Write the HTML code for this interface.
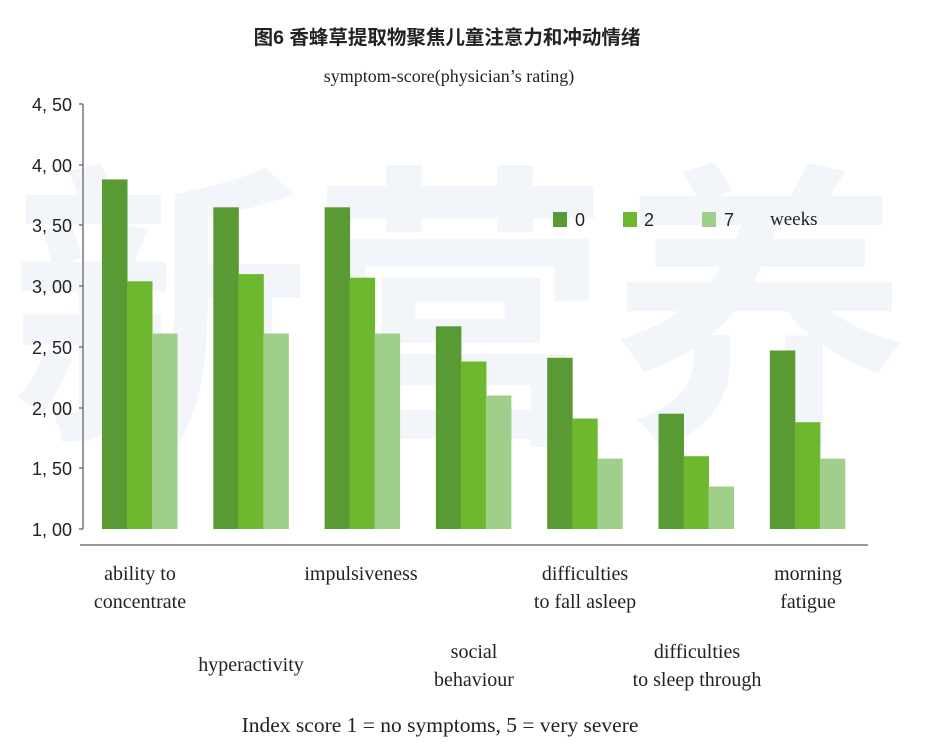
<!DOCTYPE html>
<html><head><meta charset="utf-8"><style>
body{margin:0;background:#fff;}
svg text{font-family:"Liberation Serif",serif;}
</style></head><body>
<svg width="925" height="750" xmlns="http://www.w3.org/2000/svg">
<rect width="925" height="750" fill="#fff"/>
<text x="10" y="420" font-size="300" font-weight="bold" fill="#f2f6fa" style="font-family:'Noto Sans CJK SC',sans-serif">新营养</text>
<text x="447" y="44" text-anchor="middle" font-size="19.5" font-weight="bold" style="font-family:'Liberation Sans','Noto Sans CJK SC',sans-serif" fill="#222">图6 香蜂草提取物聚焦儿童注意力和冲动情绪</text>
<text x="449" y="82" text-anchor="middle" font-size="18" fill="#222">symptom-score(physician’s rating)</text>
<g stroke="#777" stroke-width="1.5">
<line x1="83" y1="104" x2="83" y2="529"/>
<line x1="80" y1="545" x2="868" y2="545"/>
<line x1="79" y1="104" x2="83" y2="104"/><line x1="79" y1="165" x2="83" y2="165"/>
<line x1="79" y1="225" x2="83" y2="225"/><line x1="79" y1="286" x2="83" y2="286"/>
<line x1="79" y1="347" x2="83" y2="347"/><line x1="79" y1="408" x2="83" y2="408"/>
<line x1="79" y1="468" x2="83" y2="468"/><line x1="79" y1="529" x2="83" y2="529"/>
</g>
<g font-size="18" text-anchor="end" fill="#222">
<text x="72" y="111" style="font-family:'Liberation Sans',sans-serif">4, 50</text>
<text x="72" y="172" style="font-family:'Liberation Sans',sans-serif">4, 00</text>
<text x="72" y="232" style="font-family:'Liberation Sans',sans-serif">3, 50</text>
<text x="72" y="293" style="font-family:'Liberation Sans',sans-serif">3, 00</text>
<text x="72" y="354" style="font-family:'Liberation Sans',sans-serif">2, 50</text>
<text x="72" y="415" style="font-family:'Liberation Sans',sans-serif">2, 00</text>
<text x="72" y="475" style="font-family:'Liberation Sans',sans-serif">1, 50</text>
<text x="72" y="536" style="font-family:'Liberation Sans',sans-serif">1, 00</text>
</g>
<g>
<rect x="102" y="179.4" width="25.5" height="349.6" fill="#5a9a35"/>
<rect x="127" y="281.3" width="25.5" height="247.7" fill="#6db82f"/>
<rect x="152" y="333.5" width="25.5" height="195.5" fill="#9fcf8a"/>
<rect x="213.3" y="207.3" width="25.5" height="321.7" fill="#5a9a35"/>
<rect x="238.3" y="274.1" width="25.5" height="254.9" fill="#6db82f"/>
<rect x="263.3" y="333.5" width="25.5" height="195.5" fill="#9fcf8a"/>
<rect x="324.6" y="207.3" width="25.5" height="321.7" fill="#5a9a35"/>
<rect x="349.6" y="277.7" width="25.5" height="251.3" fill="#6db82f"/>
<rect x="374.6" y="333.5" width="25.5" height="195.5" fill="#9fcf8a"/>
<rect x="435.9" y="326.3" width="25.5" height="202.7" fill="#5a9a35"/>
<rect x="460.9" y="361.5" width="25.5" height="167.5" fill="#6db82f"/>
<rect x="485.9" y="395.5" width="25.5" height="133.5" fill="#9fcf8a"/>
<rect x="547.2" y="357.8" width="25.5" height="171.2" fill="#5a9a35"/>
<rect x="572.2" y="418.5" width="25.5" height="110.5" fill="#6db82f"/>
<rect x="597.2" y="458.6" width="25.5" height="70.4" fill="#9fcf8a"/>
<rect x="658.5" y="413.7" width="25.5" height="115.3" fill="#5a9a35"/>
<rect x="683.5" y="456.2" width="25.5" height="72.8" fill="#6db82f"/>
<rect x="708.5" y="486.5" width="25.5" height="42.5" fill="#9fcf8a"/>
<rect x="769.8" y="350.5" width="25.5" height="178.5" fill="#5a9a35"/>
<rect x="794.8" y="422.2" width="25.5" height="106.8" fill="#6db82f"/>
<rect x="819.8" y="458.6" width="25.5" height="70.4" fill="#9fcf8a"/>
</g>
<g>
<rect x="553" y="212" width="14" height="15" fill="#5a9a35"/>
<rect x="623" y="212" width="14" height="15" fill="#6db82f"/>
<rect x="702" y="212" width="14" height="15" fill="#9fcf8a"/>
<g font-size="18" fill="#222"><text x="575" y="226" style="font-family:'Liberation Sans',sans-serif">0</text>
<text x="644" y="226" style="font-family:'Liberation Sans',sans-serif">2</text>
<text x="724" y="226" style="font-family:'Liberation Sans',sans-serif">7</text></g>
<text x="770" y="225" font-size="19" fill="#222">weeks</text>
</g>
<g font-size="20" fill="#222" text-anchor="middle">
<text x="140" y="580">ability to</text><text x="140" y="608">concentrate</text>
<text x="251" y="671">hyperactivity</text>
<text x="361" y="580">impulsiveness</text>
<text x="474" y="658">social</text><text x="474" y="686">behaviour</text>
<text x="585" y="580">difficulties</text><text x="585" y="608">to fall asleep</text>
<text x="697" y="658">difficulties</text><text x="697" y="686">to sleep through</text>
<text x="808" y="580">morning</text><text x="808" y="608">fatigue</text>
<text x="440" y="732" font-size="21.5">Index score 1 = no symptoms, 5 = very severe</text>
</g>
</svg>
</body></html>
